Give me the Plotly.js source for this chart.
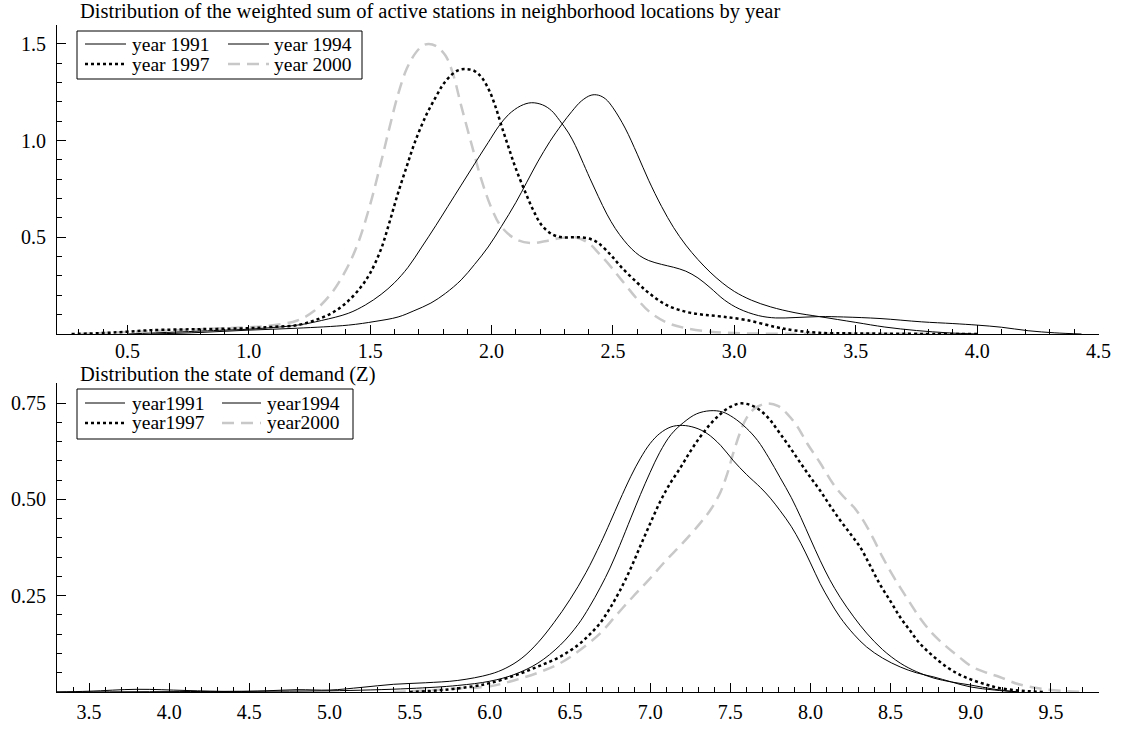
<!DOCTYPE html>
<html><head><meta charset="utf-8">
<script src="https://cdn.plot.ly/plotly-3.0.1.min.js"></script>
<style>html,body{margin:0;padding:0;background:#fff}</style>
</head><body><div id="chart" style="width:1122px;height:730px"></div>
<script>
// ---------- Panel 1: weighted sum of active stations ----------
const topTitle = "Distribution of the weighted sum of active stations in neighborhood locations by year";
const topNames = ["year 1991", "year 1994", "year 1997", "year 2000"];

const top1991x = [0.6,0.8,1.0,1.2,1.41,1.52,1.615,1.68,1.75,1.81,1.875,1.93,1.986,2.04,2.1,2.145,2.19,2.24,2.29,2.33,2.37,2.41,2.44,2.47,2.5,2.55,2.6,2.647,2.7,2.75,2.8,2.85,2.9,2.95,3.0,3.07,3.15,3.25,3.35,3.5,3.62,3.75,3.88,4.0];
const top1991y = [0.0,0.008,0.02,0.03,0.046,0.065,0.088,0.12,0.16,0.21,0.28,0.36,0.45,0.555,0.68,0.785,0.89,0.995,1.085,1.15,1.205,1.235,1.235,1.215,1.17,1.065,0.93,0.795,0.66,0.55,0.46,0.385,0.32,0.265,0.22,0.175,0.14,0.11,0.09,0.06,0.036,0.018,0.006,0.0];

const top1994x = [0.5,0.7,0.9,1.0,1.2,1.3,1.41,1.48,1.545,1.6,1.656,1.71,1.77,1.82,1.875,1.93,1.986,2.03,2.07,2.12,2.164,2.21,2.247,2.28,2.317,2.345,2.37,2.405,2.44,2.475,2.51,2.545,2.577,2.61,2.647,2.7,2.75,2.8,2.85,2.9,2.96,3.02,3.1,3.17,3.25,3.35,3.45,3.6,3.77,3.9,4.0,4.1,4.21,4.32,4.43];
const top1994y = [0.0,0.01,0.02,0.025,0.046,0.07,0.107,0.15,0.205,0.265,0.345,0.445,0.56,0.66,0.77,0.88,0.99,1.075,1.135,1.18,1.196,1.185,1.155,1.105,1.04,0.975,0.905,0.805,0.71,0.62,0.545,0.485,0.44,0.405,0.38,0.36,0.345,0.325,0.29,0.24,0.175,0.13,0.095,0.083,0.085,0.09,0.088,0.08,0.063,0.054,0.046,0.035,0.017,0.006,0.0];

const top1997x = [0.27,0.4,0.5,0.6,0.8,1.0,1.1,1.2,1.27,1.34,1.4,1.46,1.5,1.545,1.58,1.615,1.65,1.685,1.73,1.77,1.8,1.835,1.865,1.895,1.93,1.96,1.99,2.015,2.04,2.07,2.1,2.14,2.17,2.205,2.25,2.29,2.33,2.37,2.41,2.44,2.49,2.535,2.6,2.65,2.72,2.8,2.87,2.95,3.05,3.17,3.25,3.35,3.5,3.7,4.0];
const top1997y = [0.0,0.005,0.012,0.02,0.025,0.03,0.037,0.046,0.07,0.107,0.16,0.24,0.315,0.44,0.58,0.73,0.865,0.995,1.13,1.225,1.29,1.34,1.365,1.37,1.36,1.325,1.26,1.18,1.08,0.965,0.855,0.73,0.645,0.565,0.515,0.50,0.50,0.50,0.49,0.47,0.41,0.345,0.265,0.21,0.15,0.115,0.10,0.09,0.072,0.036,0.018,0.006,0.003,0.001,0.0];

const top2000x = [0.3,0.5,0.7,0.9,1.0,1.1,1.2,1.27,1.34,1.4,1.45,1.5,1.545,1.58,1.615,1.65,1.685,1.715,1.74,1.77,1.81,1.84,1.875,1.92,1.96,2.0,2.04,2.1,2.16,2.22,2.28,2.345,2.4,2.44,2.49,2.535,2.6,2.65,2.72,2.8,2.9,3.0,3.1,3.3,3.6,4.0];
const top2000y = [0.0,0.01,0.02,0.03,0.035,0.045,0.07,0.12,0.21,0.33,0.47,0.67,0.89,1.07,1.24,1.37,1.45,1.49,1.50,1.49,1.44,1.35,1.18,0.97,0.79,0.65,0.555,0.49,0.47,0.48,0.495,0.50,0.47,0.42,0.35,0.28,0.18,0.115,0.06,0.03,0.012,0.005,0.002,0.001,0.001,0.0];

const topXTicks = [0.5,1.0,1.5,2.0,2.5,3.0,3.5,4.0,4.5];
const topYTicks = [0.5,1.0,1.5];
const topYLabels = ["0.5","1.0","1.5"];

// ---------- Panel 2: state of demand (Z) ----------
const botTitle = "Distribution the state of demand (Z)";
const botNames = ["year1991", "year1994", "year1997", "year2000"];

const bot1991x = [3.3,3.5,3.8,4.1,4.4,4.6,4.8,5.0,5.2,5.4,5.6,5.8,6.0,6.1,6.2,6.3,6.4,6.5,6.6,6.69,6.75,6.81,6.88,6.94,7.0,7.06,7.13,7.2,7.28,7.355,7.44,7.52,7.6,7.69,7.75,7.81,7.88,7.94,8.0,8.06,8.12,8.185,8.27,8.35,8.45,8.56,8.66,8.77,8.88,9.0,9.15,9.3];
const bot1991y = [0.0,0.002,0.007,0.004,0.001,0.003,0.006,0.005,0.012,0.02,0.024,0.03,0.046,0.062,0.088,0.128,0.18,0.24,0.31,0.385,0.44,0.497,0.56,0.607,0.645,0.671,0.688,0.692,0.686,0.671,0.64,0.60,0.565,0.53,0.503,0.471,0.43,0.386,0.335,0.282,0.237,0.194,0.15,0.117,0.088,0.065,0.05,0.039,0.026,0.013,0.005,0.0];

const bot1994x = [3.3,4.0,4.5,5.0,5.5,5.8,6.0,6.15,6.3,6.44,6.55,6.62,6.69,6.75,6.81,6.88,6.94,7.0,7.06,7.13,7.21,7.29,7.374,7.45,7.52,7.6,7.67,7.74,7.81,7.88,7.94,8.0,8.06,8.12,8.185,8.27,8.35,8.45,8.56,8.66,8.77,8.88,9.0,9.15,9.3];
const bot1994y = [0.0,0.001,0.002,0.003,0.009,0.017,0.028,0.045,0.075,0.122,0.175,0.22,0.272,0.322,0.38,0.452,0.513,0.57,0.622,0.668,0.70,0.722,0.73,0.727,0.712,0.685,0.653,0.608,0.557,0.505,0.453,0.397,0.342,0.292,0.246,0.195,0.153,0.11,0.075,0.053,0.036,0.026,0.018,0.007,0.0];

const bot1997x = [5.5,5.7,5.9,6.0,6.15,6.3,6.44,6.55,6.62,6.69,6.75,6.81,6.88,6.94,7.0,7.06,7.12,7.19,7.25,7.31,7.375,7.44,7.5,7.56,7.625,7.69,7.75,7.81,7.875,7.94,8.0,8.06,8.12,8.185,8.25,8.31,8.37,8.43,8.5,8.56,8.62,8.68,8.76,8.85,8.93,9.01,9.1,9.18,9.3,9.45];
const bot1997y = [0.0,0.005,0.015,0.023,0.042,0.066,0.092,0.122,0.148,0.18,0.218,0.262,0.322,0.38,0.437,0.492,0.538,0.583,0.624,0.661,0.695,0.722,0.74,0.749,0.745,0.73,0.705,0.671,0.633,0.593,0.557,0.523,0.485,0.446,0.41,0.376,0.33,0.282,0.235,0.194,0.16,0.127,0.095,0.065,0.045,0.031,0.019,0.01,0.004,0.0];

const bot2000x = [5.4,5.6,5.8,6.0,6.15,6.3,6.44,6.55,6.69,6.79,6.89,7.0,7.1,7.2,7.31,7.38,7.44,7.48,7.52,7.56,7.6,7.65,7.73,7.8,7.855,7.92,7.98,8.06,8.14,8.2,8.27,8.33,8.39,8.45,8.52,8.6,8.68,8.76,8.85,8.93,9.01,9.1,9.18,9.3,9.45,9.6,9.7];
const bot2000y = [0.0,0.004,0.009,0.015,0.03,0.05,0.075,0.105,0.153,0.2,0.246,0.295,0.342,0.385,0.437,0.475,0.52,0.565,0.622,0.672,0.71,0.735,0.749,0.742,0.722,0.688,0.645,0.595,0.541,0.51,0.48,0.445,0.40,0.35,0.298,0.245,0.194,0.152,0.117,0.09,0.065,0.05,0.039,0.02,0.008,0.002,0.0];

const botXTicks = [3.5,4.0,4.5,5.0,5.5,6.0,6.5,7.0,7.5,8.0,8.5,9.0,9.5];
const botYTicks = [0.25,0.5,0.75];
const botYLabels = ["0.25","0.50","0.75"];

// ---------- layout helpers ----------
const W = 1122, H = 730;
const M = {l:57, r:23, t:25, b:38};
const PW = W - M.l - M.r, PH = H - M.t - M.b;
const px2x = px => (px - M.l) / PW;
const py2y = py => (H - M.b - py) / PH;
const FONT = "Liberation Serif, 'Times New Roman', Times, serif";

const styles = [
  {color:'#000000', width:1},
  {color:'#000000', width:1},
  {color:'#000000', width:2.5, dash:'dot'},
  {color:'#c8c8c8', width:2.5, dash:'12px,7px'}
];

function tr(x, y, i, xa, ya, name) {
  return {x:x, y:y, xaxis:xa, yaxis:ya, type:'scatter', mode:'lines', name:name,
    line:Object.assign({shape:'spline', smoothing:1}, styles[i]),
    showlegend:false, hoverinfo:'skip'};
}

const data = [
  tr(top2000x, top2000y, 3, 'x', 'y', topNames[3]),
  tr(top1997x, top1997y, 2, 'x', 'y', topNames[2]),
  tr(top1994x, top1994y, 1, 'x', 'y', topNames[1]),
  tr(top1991x, top1991y, 0, 'x', 'y', topNames[0]),
  tr(bot2000x, bot2000y, 3, 'x2', 'y2', botNames[3]),
  tr(bot1997x, bot1997y, 2, 'x2', 'y2', botNames[2]),
  tr(bot1994x, bot1994y, 1, 'x2', 'y2', botNames[1]),
  tr(bot1991x, bot1991y, 0, 'x2', 'y2', botNames[0])
];

function axisBase() {
  return {showline:true, linecolor:'#000', linewidth:1, mirror:false,
    ticks:'inside', ticklen:9, tickwidth:1, tickcolor:'#000',
    showgrid:false, zeroline:false, fixedrange:true,
    tickfont:{family:FONT, size:20, color:'#000'},
    minor:{ticks:'inside', ticklen:5, tickwidth:1, tickcolor:'#000', showgrid:false}};
}

const xTop = Object.assign(axisBase(), {domain:[0,1], anchor:'y', range:[0.21,4.502],
  tickmode:'array', tickvals:topXTicks, ticktext:topXTicks.map(v=>v.toFixed(1)), ticklabelstandoff:-1});
xTop.minor.tickmode = 'linear'; xTop.minor.tick0 = 0; xTop.minor.dtick = 0.1;
const yTop = Object.assign(axisBase(), {domain:[py2y(334), 1], anchor:'x', range:[0,1.598],
  tickmode:'array', tickvals:topYTicks, ticktext:topYLabels, ticklabelstandoff:6});
yTop.minor.tickmode = 'linear'; yTop.minor.tick0 = 0; yTop.minor.dtick = 0.1;

const xBot = Object.assign(axisBase(), {domain:[0,1], anchor:'y2', range:[3.3,9.8],
  tickmode:'array', tickvals:botXTicks, ticktext:botXTicks.map(v=>v.toFixed(1)), ticklabelstandoff:2});
xBot.minor.tickmode = 'linear'; xBot.minor.tick0 = 0; xBot.minor.dtick = 0.1;
const yBot = Object.assign(axisBase(), {domain:[0, py2y(383)], anchor:'x2', range:[0,0.802],
  tickmode:'array', tickvals:botYTicks, ticktext:botYLabels, ticklabelstandoff:6});
yBot.minor.tickmode = 'linear'; yBot.minor.tick0 = 0; yBot.minor.dtick = 0.05;

const shapes = [];
const annotations = [];

// titles
annotations.push({xref:'paper', yref:'paper', x:px2x(78), y:py2y(12), xanchor:'left', yanchor:'middle',
  text:topTitle, showarrow:false, font:{family:FONT, size:20.5, color:'#000'}});
annotations.push({xref:'paper', yref:'paper', x:px2x(78), y:py2y(374), xanchor:'left', yanchor:'middle',
  text:botTitle, showarrow:false, font:{family:FONT, size:20.5, color:'#000'}});

// manual two-column legends
function legend(names, box, rows, cols) {
  shapes.push({type:'rect', xref:'paper', yref:'paper', x0:px2x(box[0]), x1:px2x(box[1]),
    y0:py2y(box[2]), y1:py2y(box[3]), line:{color:'#000', width:1}, fillcolor:'rgba(0,0,0,0)'});
  const order = [[0,0],[0,1],[1,0],[1,1]];
  order.forEach((rc, i) => {
    const ry = rows[rc[0]], c = cols[rc[1]];
    shapes.push({type:'line', xref:'paper', yref:'paper', x0:px2x(c[0]), x1:px2x(c[1]),
      y0:py2y(ry), y1:py2y(ry), line:Object.assign({}, styles[i])});
    annotations.push({xref:'paper', yref:'paper', x:px2x(c[2]), y:py2y(ry), xanchor:'left', yanchor:'middle',
      text:names[i], showarrow:false, font:{family:FONT, size:19.5, color:'#000'}});
  });
}
legend(topNames, [77, 362, 31, 79], [44, 64], [[85,126,130],[228,269,272]]);
legend(botNames, [77, 353, 389, 439], [403, 423], [[85,125,130],[222,261,265]]);

const layout = {
  width:W, height:H, margin:M, paper_bgcolor:'#fff', plot_bgcolor:'#fff',
  showlegend:false, font:{family:FONT, color:'#000'},
  xaxis:xTop, yaxis:yTop, xaxis2:xBot, yaxis2:yBot,
  shapes:shapes, annotations:annotations
};

Plotly.newPlot('chart', data, layout, {staticPlot:true, displayModeBar:false});
</script>
</body></html>
